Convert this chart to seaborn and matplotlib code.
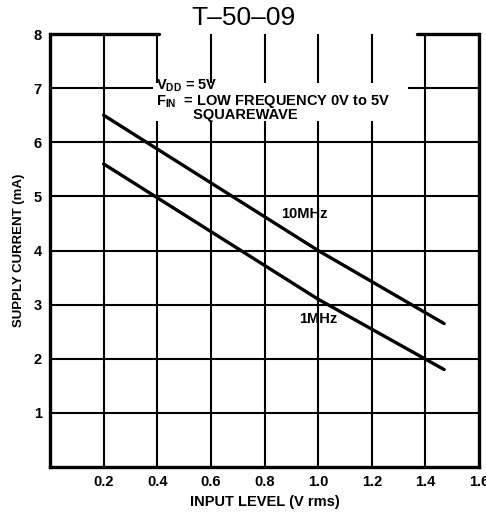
import matplotlib
matplotlib.use("Agg")
import matplotlib.pyplot as plt
from matplotlib.patches import Rectangle
import seaborn as sns
import pandas as pd
import numpy as np

# ---- data ----
x_10mhz = [0.2, 1.0, 1.47]
y_10mhz = [6.5, 4.0, 2.65]
x_1mhz = [0.2, 1.0, 1.47]
y_1mhz = [5.6, 3.1, 1.8]
series_names = ["10MHz", "1MHz"]
x_ticks = [0.2, 0.4, 0.6, 0.8, 1.0, 1.2, 1.4, 1.6]
x_tick_labels = ["0.2", "0.4", "0.6", "0.8", "1.0", "1.2", "1.4", "1.6"]
y_ticks = [1, 2, 3, 4, 5, 6, 7, 8]
y_tick_labels = ["1", "2", "3", "4", "5", "6", "7", "8"]

df = pd.DataFrame({
    "x": x_10mhz + x_1mhz,
    "y": y_10mhz + y_1mhz,
    "series": [series_names[0]] * len(x_10mhz) + [series_names[1]] * len(x_1mhz),
})

sns.set_theme(style="white")
plt.rcParams["font.family"] = ["Liberation Sans", "DejaVu Sans"]
plt.rcParams["mathtext.fontset"] = "custom"
plt.rcParams["mathtext.rm"] = "Liberation Sans"
plt.rcParams["mathtext.bf"] = "Liberation Sans:bold"
for key in ["text.color", "axes.labelcolor", "xtick.color", "ytick.color"]:
    plt.rcParams[key] = "black"

fig = plt.figure(figsize=(4.86, 5.12), dpi=100)
ax = fig.add_axes([50 / 486, 1 - 467 / 512, (479 - 50) / 486, (467 - 34) / 512])

# grid lines
for xv in x_ticks[:-1]:
    ax.axvline(xv, color="black", lw=1.5, zorder=1)
for yv in y_ticks[:-1]:
    ax.axhline(yv, color="black", lw=1.5, zorder=1)

# white area behind the condition text
ax.add_patch(Rectangle((0.385, 6.4), 0.95, 0.7, facecolor="white",
                       edgecolor="none", zorder=2))

sns.lineplot(data=df, x="x", y="y", hue="series", palette=["black", "black"],
             legend=False, lw=2.4, ax=ax, zorder=3)

ax.set_xlim(0, 1.6)
ax.set_ylim(0, 8)
ax.set_xticks(x_ticks)
ax.set_xticklabels(x_tick_labels, fontweight="bold", fontsize=10.5)
ax.set_yticks(y_ticks)
ax.set_yticklabels(y_tick_labels, fontweight="bold", fontsize=10.5)
ax.tick_params(length=0, pad=6)
ax.grid(False)

for s in ["left", "bottom", "right"]:
    ax.spines[s].set_color("black")
    ax.spines[s].set_linewidth(2.4)
ax.spines["top"].set_visible(False)
ax.axhline(8, xmin=0, xmax=0.255, color="black", lw=2.4, clip_on=False)
ax.axhline(8, xmin=0.855, xmax=1.0, color="black", lw=2.4, clip_on=False)

ax.set_xlabel("INPUT LEVEL (V rms)", fontweight="bold", fontsize=10.5, labelpad=4)
ax.set_ylabel("SUPPLY CURRENT (mA)", fontweight="bold", fontsize=9.5, labelpad=6)

# annotations
cond_text = ("$\\mathbf{V_{DD}}$ = 5V\n"
             "$\\mathbf{F_{IN}}$  = LOW FREQUENCY 0V to 5V\n"
             "         SQUAREWAVE")
ax.text(0.395, 6.78, cond_text, fontweight="bold", fontsize=10.5,
        ha="left", va="center", linespacing=0.88, zorder=4)
ax.text(0.95, 4.68, series_names[0], fontweight="bold", fontsize=10.5,
        ha="center", va="center", zorder=4)
ax.text(1.0, 2.74, series_names[1], fontweight="bold", fontsize=10.5,
        ha="center", va="center", zorder=4)

fig.text(243 / 486, 1 - 18 / 512, "T–50–09", fontsize=19, ha="center", va="center")

fig.savefig("out.png", dpi=100, facecolor="white")
